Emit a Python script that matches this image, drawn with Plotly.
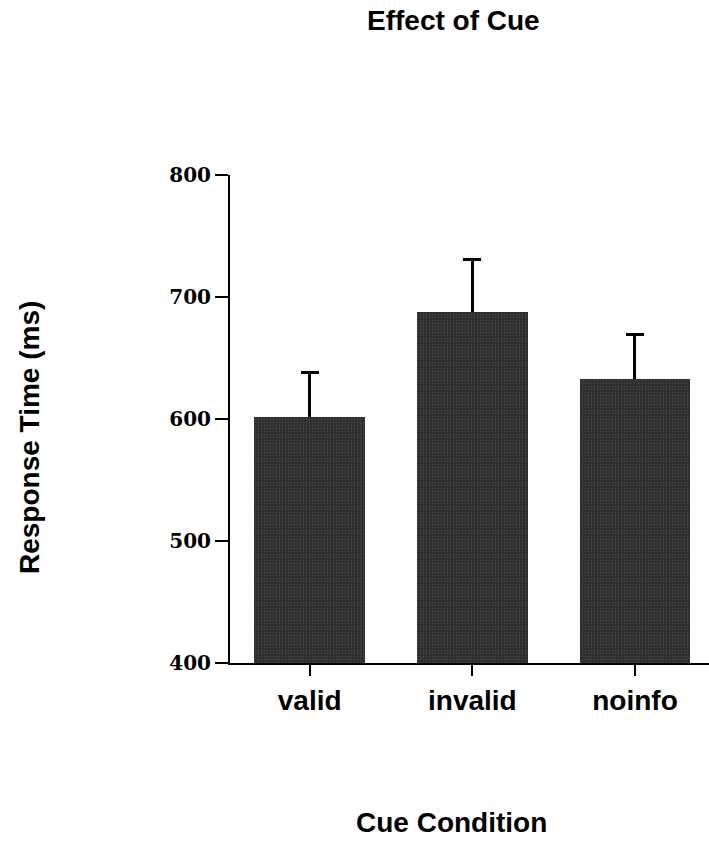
import plotly.graph_objects as go

categories = ["valid", "invalid", "noinfo"]
mean_rt = [602, 688, 633]
err_rt = [36, 43, 36]
y_ticks = [400, 500, 600, 700, 800]

W, H = 709, 841
ML, MR, MT, MB = 230, 0, 175, 178
PW, PH = W - ML - MR, H - MT - MB

def px_x(x):
    return (x - ML) / PW

def px_y(y):
    return 1 - (y - MT) / PH

fig = go.Figure()
# error bars (symmetric, lower half hidden behind the bars drawn afterwards)
fig.add_trace(go.Bar(
    x=categories, y=mean_rt, width=0.68,
    marker=dict(color="rgba(0,0,0,0)", line=dict(width=0)),
    error_y=dict(type="data", array=err_rt, symmetric=True,
                 color="black", thickness=3, width=9),
    hoverinfo="skip",
))
fig.add_trace(go.Bar(
    x=categories, y=mean_rt, width=0.68,
    marker=dict(color="#383838", line=dict(width=0),
                pattern=dict(shape=".", fgcolor="#5c5c5c", bgcolor="#2c2c2c", size=3, solidity=0.3)),
))

bold_sans = dict(family="Liberation Sans, Arial, sans-serif", color="black", size=28, weight="bold")

fig.update_layout(
    width=W, height=H,
    margin=dict(l=ML, r=MR, t=MT, b=MB),
    plot_bgcolor="white", paper_bgcolor="white",
    showlegend=False, bargap=0, barmode="overlay",
    xaxis=dict(range=[-0.49, 2.455], showline=True, linecolor="black", linewidth=2,
               ticks="outside", ticklen=11, tickwidth=2, tickcolor="black",
               tickfont=dict(family="Liberation Sans, Arial, sans-serif", size=28, color="black", weight="bold"),
               showgrid=False, zeroline=False),
    yaxis=dict(range=[400, 800], tickvals=y_ticks, ticktext=[str(v) for v in y_ticks],
               showline=True, linecolor="black", linewidth=2,
               ticks="outside", ticklen=13, tickwidth=2, tickcolor="black",
               tickfont=dict(family="DejaVu Serif, serif", size=20, color="black", weight="bold"),
               showgrid=False, zeroline=False),
    annotations=[
        dict(text="Effect of Cue", x=px_x(453), y=px_y(21), xref="paper", yref="paper",
             xanchor="center", yanchor="middle", showarrow=False, font=bold_sans),
        dict(text="Cue Condition", x=px_x(451), y=px_y(822), xref="paper", yref="paper",
             xanchor="center", yanchor="middle", showarrow=False, font=bold_sans),
        dict(text="Response Time (ms)", x=px_x(29), y=px_y(438), xref="paper", yref="paper",
             xanchor="center", yanchor="middle", showarrow=False, textangle=-90, font=bold_sans),
    ],
)

fig.write_html("out.html")
